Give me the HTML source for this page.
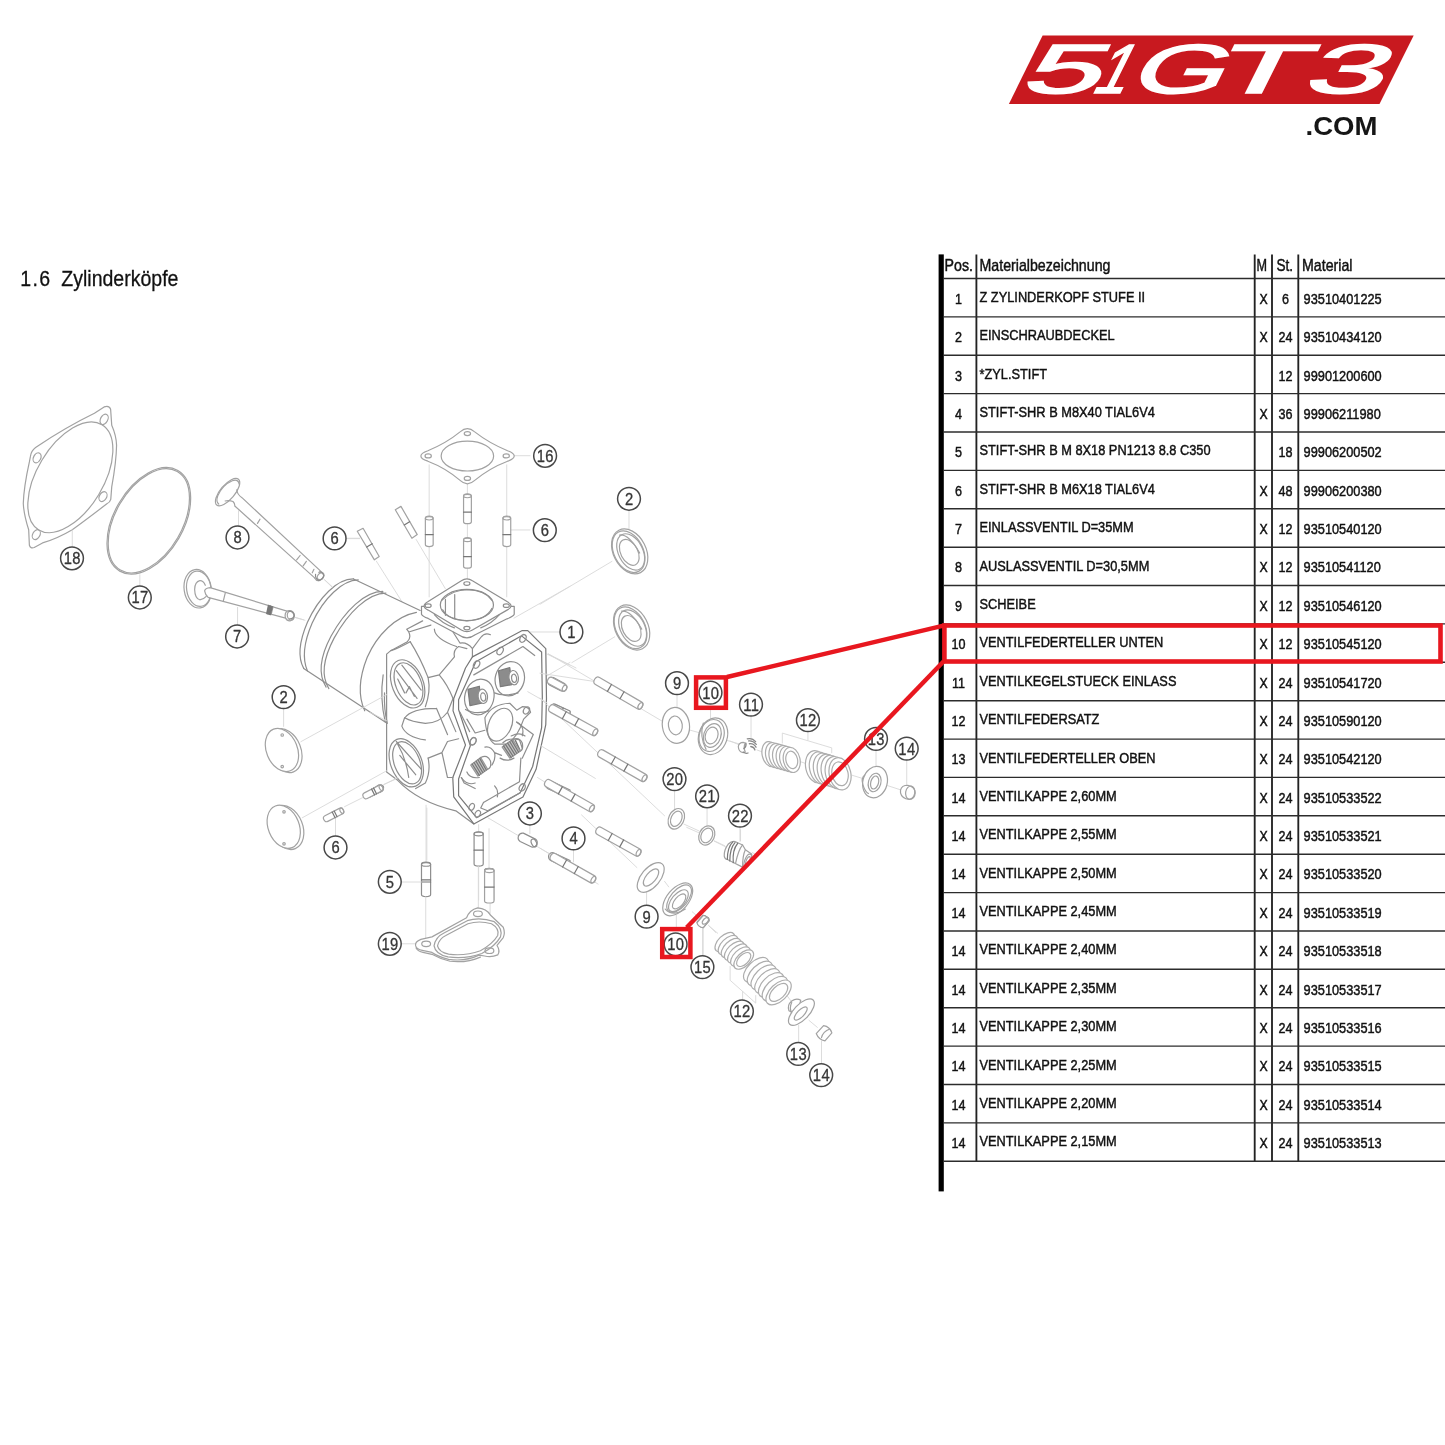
<!DOCTYPE html>
<html lang="de">
<head>
<meta charset="utf-8">
<title>1.6 Zylinderköpfe</title>
<style>
html,body{margin:0;padding:0;background:#fff;}
body{width:1445px;height:1445px;overflow:hidden;}
svg{display:block;font-family:"Liberation Sans",sans-serif;will-change:transform;}
#diagram *{vector-effect:non-scaling-stroke;}
#diagram .l{stroke:#d8d8d8;stroke-width:0.9;}
#diagram .d{stroke:#777;}
#diagram .f{fill:#fff;}
</style>
</head>
<body>
<svg width="1445" height="1445" viewBox="0 0 1445 1445">
<rect width="1445" height="1445" fill="#fff"/>
<g id="logo">
<polygon points="1042.6,35.5 1413.7,35.5 1379.5,103.9 1008.9,103.9" fill="#c8191f"/>
<text transform="translate(0 93.4) skewX(-26.5)" font-size="69.5" fill="#fff" stroke="#fff" stroke-width="1.6" stroke-linejoin="miter"><tspan x="1018.3" textLength="78.5" lengthAdjust="spacingAndGlyphs">5</tspan><tspan x="1089.7" textLength="33.1" lengthAdjust="spacingAndGlyphs">1</tspan><tspan x="1126.4" textLength="93.4" lengthAdjust="spacingAndGlyphs">G</tspan><tspan x="1208.4" textLength="90.4" lengthAdjust="spacingAndGlyphs">T</tspan><tspan x="1300.2" textLength="80.1" lengthAdjust="spacingAndGlyphs">3</tspan></text>
<text transform="translate(1305.5 134.6) scale(1.08 1)" font-size="25.5" font-weight="bold" fill="#161616">.COM</text>
</g>
<g id="title">
<text transform="translate(20.3 285.7) scale(0.86 1)" font-size="22.7" fill="#111" stroke="#111" stroke-width="0.3"><tspan letter-spacing="1.6">1.6</tspan> <tspan x="47.7">Zylinderköpfe</tspan></text>
</g>
<g id="diagram">
<g fill="none" stroke="#a2a2a2" stroke-width="1.2" stroke-linecap="round" stroke-linejoin="round">
<g transform="translate(10 390) scale(0.13841)">
<path class="p" d="M700 118 Q722 118 727 140 L735 255 Q768 330 770 400 Q768 520 735 700 L728 790 Q722 812 700 822 Q560 930 450 1010 Q340 1075 235 1105 L175 1138 Q148 1148 140 1122 L135 1010 Q100 900 96 820 Q100 700 140 520 L148 478 Q152 440 185 415 Q400 270 610 168 L680 122 Q690 118 700 118 Z"/>
<ellipse class="p" cx="436" cy="631" rx="240" ry="443" transform="rotate(31 436 631)"/>
<ellipse class="p" cx="680" cy="212" rx="26" ry="40" transform="rotate(28 680 212)"/>
<ellipse class="p" cx="196" cy="490" rx="26" ry="38" transform="rotate(28 196 490)"/>
<ellipse class="p" cx="672" cy="770" rx="26" ry="38" transform="rotate(28 672 770)"/>
<ellipse class="p" cx="190" cy="1045" rx="26" ry="38" transform="rotate(28 190 1045)"/>
<ellipse class="p" cx="1003" cy="945" rx="251" ry="420" transform="rotate(30 1003 945)"/>
<ellipse class="p" cx="1003" cy="945" rx="242" ry="411" transform="rotate(30 1003 945)"/>
<path class="l" d="M450 1012 V1130"/>
<path class="l" d="M938 1335 V1420"/>
</g>
<g transform="translate(170 460) scale(0.13841)">
<g>
<ellipse class="f" cx="416" cy="232" rx="52" ry="122" transform="rotate(40 416 232)"/>
<path d="M352 318 Q330 300 345 258 Q380 180 450 150 Q495 135 500 175"/>
<path d="M398 296 Q430 290 455 300 Q470 315 468 332 L1045 852"/>
<path d="M482 215 Q486 250 520 272 L1098 812"/>
<path d="M650 428 L632 458 M940 690 L915 722 M985 732 L962 765 M1040 790 L1028 815"/>
<path d="M1045 852 Q1060 880 1085 868 Q1115 850 1110 822 Q1100 805 1075 812"/>
<ellipse cx="1088" cy="840" rx="20" ry="28" transform="rotate(40 1088 840)"/>
</g>
<g>
<ellipse class="f" cx="200" cy="930" rx="98" ry="140" transform="rotate(-8 200 930)"/>
<ellipse cx="208" cy="930" rx="88" ry="128" transform="rotate(-8 208 930)"/>
<path class="f" d="M255 905 Q240 870 215 872 Q180 880 178 935 Q180 1000 215 1010 Q245 1005 262 985"/>
<path class="f" d="M250 945 Q255 925 290 922 L845 1092 Q880 1080 895 1110 Q905 1145 870 1162 Q845 1165 835 1142 L275 992 Q255 975 250 945 Z"/>
<path d="M400 958 L385 1020 M725 1052 L705 1112 M745 1060 L730 1118 M845 1092 Q825 1110 835 1142"/>
<path class="d" stroke-width="1.6" d="M712 1052 L700 1108 M720 1055 L708 1111 M730 1058 L716 1114 M738 1060 L724 1116"/>
<ellipse cx="872" cy="1125" rx="24" ry="33" transform="rotate(-15 872 1125)"/>
</g>
<path class="l" d="M495 365 V475 M488 1065 V1190 M1275 568 H1370 M1112 862 L1175 922 M902 1137 L975 1158"/>
</g>
<g transform="translate(290 420) scale(0.16609)">
<path class="l" d="M838 270 V1065 M1305 270 V1065 M1068 382 V960 M1350 215 H1445 M1330 662 H1445 M520 850 L760 1230 M760 720 L935 1015"/>
<g id="g16">
<path class="f" d="M1068 52 Q1090 52 1110 70 Q1200 140 1310 185 Q1350 200 1350 217 Q1350 235 1310 248 Q1200 290 1110 365 Q1090 384 1068 384 Q1046 384 1026 365 Q940 290 830 248 Q788 235 788 217 Q788 200 830 185 Q940 140 1026 70 Q1046 52 1068 52 Z"/>
<ellipse cx="1068" cy="217" rx="158" ry="90"/>
<ellipse cx="1068" cy="82" rx="19" ry="12"/><ellipse cx="1302" cy="216" rx="19" ry="12"/><ellipse cx="1068" cy="352" rx="19" ry="12"/><ellipse cx="832" cy="216" rx="19" ry="12"/>
</g>
<g id="pinsv">
<path class="f" d="M815 592 Q815 578 838 578 Q862 578 862 592 V750 Q862 762 838 762 Q815 762 815 750 Z"/><ellipse cx="838" cy="592" rx="23" ry="10"/><path class="d" d="M815 690 H862"/>
<path class="f" d="M1045 458 Q1045 444 1068 444 Q1092 444 1092 458 V612 Q1092 624 1068 624 Q1045 624 1045 612 Z"/><ellipse cx="1068" cy="458" rx="23" ry="10"/><path class="d" d="M1045 555 H1092"/>
<path class="f" d="M1045 722 Q1045 708 1068 708 Q1092 708 1092 722 V880 Q1092 892 1068 892 Q1045 892 1045 880 Z"/><ellipse cx="1068" cy="722" rx="23" ry="10"/><path class="d" d="M1045 822 H1092"/>
<path class="f" d="M1282 592 Q1282 578 1305 578 Q1329 578 1329 592 V750 Q1329 762 1305 762 Q1282 762 1282 750 Z"/><ellipse cx="1305" cy="592" rx="23" ry="10"/><path class="d" d="M1282 690 H1329"/>
<path class="f" d="M634 540 L668 520 L766 690 L734 712 Z"/><path class="d" d="M688 632 L720 612"/>
<path class="f" d="M405 670 L440 652 L537 822 L508 842 Z"/><path class="d" d="M462 765 L495 745"/>
<path class="l" d="M343 712 H420"/>
</g>
</g>
<g transform="translate(290 570) scale(0.12457)" stroke="#8e8e8e">
<path class="f" stroke="none" d="M510 72 C380 70 230 220 140 420 C80 560 60 700 110 790 L770 1225 L1045 325 Z"/>
<path d="M510 72 C380 70 230 220 140 420 C80 560 60 700 110 790"/>
<path d="M548 80 C420 82 270 225 178 425 C115 570 95 705 140 810"/>
<path d="M745 172 C600 172 440 330 330 530 C250 680 220 830 290 940"/>
<path d="M770 185 C625 185 465 345 355 545 C275 695 245 845 312 952"/>
<path d="M1015 340 C850 370 700 520 620 700 C560 850 540 1000 600 1130"/>
<path d="M510 72 L1045 325 M110 790 L770 1225"/>
<path class="l" d="M280 80 L340 135 M40 380 L110 400"/>
<path d="M-10 330 Q30 330 35 365 Q25 395 -5 392"/>
<path d="M205 35 Q200 65 230 85 Q265 75 272 45 Q265 20 240 12"/>
</g>
<g transform="translate(370 560) scale(0.13841)" stroke="#8e8e8e">
<path class="l" d="M1130 520 H1375 M1040 420 L1445 190 M1280 680 L1445 760 M1240 860 L1445 740"/>
<path class="f" stroke="none" d="M120 680 L150 655 L270 590 L280 520 L265 500 L380 440 L372 392 L700 560 L1100 510 L1140 510 L1270 640 L1275 1000 L1200 1512 L1105 1712 L750 1907 Q350 1800 120 1532 Z"/>
<g id="flange">
<path class="f" d="M372 335 V392 Q380 408 420 422 L640 540 Q700 585 760 540 L990 425 Q1035 408 1042 392 V335 Z"/>
<path class="f" d="M660 150 Q700 122 740 150 L990 300 Q1048 332 990 362 L740 505 Q700 530 660 505 L420 362 Q362 332 420 300 Z"/>
<ellipse cx="700" cy="325" rx="192" ry="113"/>
<path d="M520 290 Q600 215 700 215 Q830 218 880 290 M545 285 V400 M612 250 V425 M525 360 Q560 430 700 440 Q840 430 880 350"/>
<ellipse cx="700" cy="170" rx="22" ry="13"/><ellipse cx="985" cy="330" rx="22" ry="13"/><ellipse cx="700" cy="492" rx="22" ry="13"/><ellipse cx="420" cy="330" rx="22" ry="13"/>
<path d="M465 395 Q520 460 610 490 M935 395 Q880 460 800 490"/>
</g>
<g id="leftside">
<path d="M120 680 V1532 L200 1592 Q350 1750 620 1812 L750 1907 M120 680 L150 655 L270 590 M270 590 Q300 560 280 520 L265 500 L380 440 M280 520 L440 470"/>
<path d="M290 590 Q360 700 420 850 L500 830 L610 700 Q600 650 640 625 L700 640 M500 830 Q560 900 600 1000 M465 500 Q470 570 625 625 M600 520 L650 600 Q700 590 740 640 L800 560 Q830 520 870 540 M740 640 L740 700"/>
<path d="M150 655 Q200 640 290 590 M420 850 Q440 950 400 1060 M600 1000 L560 1100 Q500 1180 400 1180 Q300 1170 250 1140 M250 1140 L230 1200 Q260 1280 400 1300 M560 1100 L620 1240"/>
<ellipse cx="272" cy="895" rx="112" ry="182" transform="rotate(-22 272 895)"/>
<ellipse cx="278" cy="895" rx="92" ry="160" transform="rotate(-22 278 895)"/>
<path d="M190 800 L340 1000 M230 760 L370 940 M260 960 L285 915 L320 985 M200 860 L250 960"/>
<path d="M95 830 Q70 1000 110 1170 M105 960 Q100 1080 125 1180"/>
<ellipse cx="262" cy="1465" rx="112" ry="182" transform="rotate(-22 262 1465)"/>
<ellipse cx="268" cy="1465" rx="92" ry="160" transform="rotate(-22 268 1465)"/>
</g>
<g id="front">
<path class="d" d="M740 700 L1100 510 L1140 510 L1270 640 L1275 1000 L1270 1190 L1200 1512 L1105 1712 L750 1907 L605 1712 L598 1572 L690 1337 L600 1090 L605 1000 L690 780 L740 700"/>
<path class="d" d="M765 735 L1095 548 L1240 665 L1245 990 L1240 1212 L1175 1492 L1085 1682 L770 1862 L640 1702 L640 1582 L725 1342 L640 1080 L640 1010 L765 735"/>
<path d="M750 830 L1105 625 L1190 690"/>
<ellipse cx="770" cy="755" rx="20" ry="30" transform="rotate(30 770 755)"/><ellipse cx="940" cy="657" rx="20" ry="30" transform="rotate(30 940 657)"/><ellipse cx="1105" cy="567" rx="20" ry="30" transform="rotate(30 1105 567)"/>
<ellipse cx="790" cy="990" rx="105" ry="130" transform="rotate(15 790 990)"/>
<ellipse cx="1010" cy="858" rx="105" ry="125" transform="rotate(15 1010 858)"/>
<path d="M690 1080 Q760 1120 860 1090 M900 960 Q960 990 1070 960"/>
<path fill="#8c8c8c" stroke="#7a7a7a" d="M708 935 L790 912 L805 1035 L722 1052 Z"/>
<ellipse class="f" cx="815" cy="985" rx="34" ry="52" transform="rotate(-8 815 985)"/>
<ellipse cx="818" cy="990" rx="18" ry="30" transform="rotate(-8 818 990)"/>
<path fill="#8c8c8c" stroke="#7a7a7a" d="M928 800 L1010 778 L1025 900 L942 915 Z"/>
<ellipse class="f" cx="1038" cy="850" rx="34" ry="52" transform="rotate(-8 1038 850)"/>
<ellipse cx="1041" cy="855" rx="18" ry="30" transform="rotate(-8 1041 855)"/>
<path d="M830 1140 Q880 1040 1010 1035 L1060 1085 L1100 1060 Q1150 1060 1160 1100 L1110 1150 Q1060 1300 980 1330 L900 1330 Q840 1290 830 1140 Z"/>
<ellipse cx="940" cy="1190" rx="82" ry="125" transform="rotate(25 940 1190)"/>
<ellipse cx="1130" cy="1087" rx="20" ry="28" transform="rotate(30 1130 1087)"/>
<ellipse cx="745" cy="1310" rx="20" ry="28" transform="rotate(30 745 1310)"/>
<path d="M700 1150 L760 1250 L830 1230 M1060 1170 Q1120 1200 1100 1270 M650 1100 L720 1240"/>
<path class="d" stroke-width="1.5" d="M975 1340 L1000 1410 M990 1330 L1018 1402 M1005 1322 L1035 1395 M1020 1315 L1052 1388 M1035 1308 L1068 1380 M1050 1302 L1082 1372"/>
<path d="M960 1320 Q1000 1280 1080 1300 L1100 1360"/>
</g>
<g id="pins-r">
<path class="f" d="M1288 868 Q1300 840 1325 850 L1405 892 Q1425 905 1412 932 Q1400 955 1378 945 L1300 905 Q1280 892 1288 868 Z"/>
<ellipse cx="1396" cy="918" rx="17" ry="28" transform="rotate(-25 1396 918)"/>
<path class="f" d="M1305 1060 Q1315 1035 1340 1045 L1445 1095 V1160 L1318 1100 Q1298 1085 1305 1060 Z"/>
<path class="d" d="M1395 1075 L1375 1130"/>
</g>
</g>
<g transform="translate(370 700) scale(0.13841)" stroke="#8e8e8e">
<path class="l" d="M405 760 V1175 M785 900 V950 M860 930 V1215 M785 1200 V1445 M850 850 L1080 985 M1210 1060 L1300 1112 M1280 20 L1140 -60 M1210 560 L1275 600 M190 570 L100 610 M0 90 L120 150"/>
<g id="springs">
<path d="M420 420 L520 380 L560 300 L640 280 M520 380 L560 560 L600 560 M480 60 L560 250 M250 130 Q300 60 480 60"/>
<path fill="#c4c4c4" stroke="#999" d="M728 470 L800 415 L850 500 L780 550 Z"/>
<path class="d" d="M738 462 L790 545 M752 452 L802 535 M766 442 L815 525 M780 432 L828 515 M793 422 L840 506"/>
<path d="M800 415 Q850 390 870 440 Q880 490 850 500 M700 520 Q720 570 790 560 M660 560 Q700 620 760 600"/>
<path fill="#c4c4c4" stroke="#999" d="M955 340 L1030 285 L1085 370 L1010 420 Z"/>
<path class="d" d="M965 332 L1020 415 M980 322 L1033 405 M995 312 L1047 395 M1010 302 L1060 385 M1023 292 L1073 376"/>
<path d="M1030 285 Q1080 265 1100 310 Q1110 360 1085 370 M940 420 Q990 450 1040 420 M1020 260 Q1080 230 1120 260"/>
<path d="M830 340 Q870 330 900 380 Q910 430 880 470 M900 380 L950 400 M660 560 L680 600 L760 640 M820 740 L1080 590 L1090 420 M820 740 L800 780 L850 800 L1085 670 M900 620 Q930 650 920 700 M1060 160 L1180 250 L1100 420"/>
<ellipse cx="745" cy="297" rx="20" ry="28" transform="rotate(30 745 297)"/>
<ellipse cx="1100" cy="632" rx="20" ry="28" transform="rotate(30 1100 632)"/>
<ellipse cx="735" cy="772" rx="18" ry="26" transform="rotate(30 735 772)"/>
<ellipse cx="778" cy="822" rx="18" ry="26" transform="rotate(30 778 822)"/>
</g>
<g id="port2">
<path d="M190 300 L370 500 M215 400 L330 540 M200 320 Q260 420 280 560"/>
<path d="M420 420 Q440 520 400 600 L330 640"/>
</g>
<g id="pins-low">
<path class="f" d="M372 1188 Q372 1172 405 1172 Q438 1172 438 1188 V1405 Q438 1420 405 1420 Q372 1420 372 1405 Z"/><ellipse cx="405" cy="1188" rx="33" ry="13"/><path class="d" d="M372 1300 H438 M372 1315 H438"/>
<path class="f" d="M752 968 Q752 952 785 952 Q818 952 818 968 V1185 Q818 1200 785 1200 Q752 1200 752 1185 Z"/><ellipse cx="785" cy="968" rx="33" ry="13"/><path class="d" d="M752 1085 H818"/>
<path class="f" d="M828 1232 Q828 1216 861 1216 Q894 1216 894 1232 V1445 H828 Z"/><ellipse cx="861" cy="1232" rx="33" ry="13"/><path class="d" d="M828 1350 H894"/>
<path class="f" d="M1072 985 Q1080 958 1108 962 L1195 1005 Q1215 1020 1205 1045 Q1192 1068 1168 1062 L1085 1022 Q1065 1008 1072 985 Z"/><ellipse cx="1185" cy="1033" rx="18" ry="30" transform="rotate(-25 1185 1033)"/>
<path class="f" d="M1302 45 Q1312 25 1335 30 L1445 80 V140 L1315 85 Q1295 70 1302 45 Z"/><path class="d" d="M1395 60 L1375 115"/>
<path class="f" d="M1272 600 Q1282 578 1305 584 L1445 650 V712 L1285 640 Q1265 625 1272 600 Z"/><path class="d" d="M1375 618 L1355 672"/>
<path class="f" d="M1292 1120 Q1302 1098 1325 1104 L1445 1160 V1225 L1305 1160 Q1285 1145 1292 1120 Z"/><path class="d" d="M1395 1138 L1375 1192"/>
<path class="f" d="M-5 660 L60 615 Q90 605 98 632 Q98 655 75 665 L0 700 Z"/><ellipse cx="78" cy="640" rx="17" ry="24" transform="rotate(25 78 640)"/><path class="d" d="M25 640 L40 675"/>
<path class="l" d="M232 1315 H372 M1155 905 V965"/>
</g>
</g>
<g transform="translate(540 470) scale(0.13841)">
<path class="l" d="M643 295 V425 M520 660 L0 970 M540 1205 L230 1392 M60 1330 L260 1430"/>
<g id="seal1">
<ellipse class="f" cx="648" cy="588" rx="118" ry="172" transform="rotate(-27 648 588)"/>
<ellipse cx="640" cy="590" rx="105" ry="160" transform="rotate(-27 640 590)"/>
<ellipse cx="655" cy="592" rx="88" ry="140" transform="rotate(-27 655 592)"/>
<ellipse cx="645" cy="595" rx="62" ry="100" transform="rotate(-27 645 595)"/>
<path d="M575 470 Q640 460 720 600"/>
</g>
<g id="seal2">
<ellipse class="f" cx="662" cy="1138" rx="118" ry="172" transform="rotate(-27 662 1138)"/>
<ellipse cx="654" cy="1140" rx="105" ry="160" transform="rotate(-27 654 1140)"/>
<ellipse cx="669" cy="1142" rx="88" ry="140" transform="rotate(-27 669 1142)"/>
<ellipse cx="659" cy="1145" rx="62" ry="100" transform="rotate(-27 659 1145)"/>
<path d="M590 1020 Q655 1010 735 1150"/>
</g>
</g>
<g transform="translate(540 640) scale(0.13841)">
<path class="l" d="M990 400 V490 M1232 505 V565 M972 1095 V1220 M1207 1220 V1345 M60 100 L880 585 M1080 650 L1445 752 M0 420 L900 1270 M1040 1330 L1150 1380 M0 760 L400 1000 M0 240 L395 300"/>
<g transform="translate(405 290) rotate(30.2)"><path class="f" d="M12 -29 H362 Q386 -29 386 0 Q386 29 362 29 H12 Q-12 29 -12 0 Q-12 -29 12 -29 Z"/><ellipse cx="370" cy="0" rx="14" ry="26"/><path class="d" d="M112 -29 V29"/><path class="d" d="M217 -29 V29"/></g>
<g transform="translate(78 490) rotate(28.8)"><path class="f" d="M12 -29 H358 Q382 -29 382 0 Q382 29 358 29 H12 Q-12 29 -12 0 Q-12 -29 12 -29 Z"/><ellipse cx="366" cy="0" rx="14" ry="26"/><path class="d" d="M111 -29 V29"/><path class="d" d="M214 -29 V29"/></g>
<g transform="translate(432 815) rotate(29.6)"><path class="f" d="M12 -29 H363 Q387 -29 387 0 Q387 29 363 29 H12 Q-12 29 -12 0 Q-12 -29 12 -29 Z"/><ellipse cx="371" cy="0" rx="14" ry="26"/><path class="d" d="M112 -29 V29"/><path class="d" d="M217 -29 V29"/></g>
<g transform="translate(48 1030) rotate(29.7)"><path class="f" d="M12 -29 H368 Q392 -29 392 0 Q392 29 368 29 H12 Q-12 29 -12 0 Q-12 -29 12 -29 Z"/><ellipse cx="376" cy="0" rx="14" ry="26"/><path class="d" d="M114 -29 V29"/><path class="d" d="M220 -29 V29"/></g>
<g transform="translate(68 290) rotate(28.2)"><path class="f" d="M12 -26 H115 Q139 -26 139 0 Q139 26 115 26 H12 Q-12 26 -12 0 Q-12 -26 12 -26 Z"/><ellipse cx="124" cy="0" rx="14" ry="23"/></g>
<g id="w9"><ellipse class="f" cx="982" cy="617" rx="98" ry="130" transform="rotate(-8 982 617)"/><ellipse cx="978" cy="617" rx="50" ry="68" transform="rotate(-8 978 617)"/></g>
<g id="p10"><ellipse class="f" cx="1250" cy="695" rx="103" ry="135" transform="rotate(18 1250 695)"/><ellipse cx="1240" cy="690" rx="88" ry="118" transform="rotate(18 1240 690)"/><ellipse cx="1245" cy="690" rx="62" ry="88" transform="rotate(18 1245 690)"/><ellipse cx="1240" cy="690" rx="45" ry="62" transform="rotate(18 1240 690)"/><path d="M1180 600 Q1150 700 1200 790"/></g>
<g id="w20"><ellipse class="f" cx="985" cy="1292" rx="55" ry="78" transform="rotate(25 985 1292)"/><ellipse cx="985" cy="1292" rx="38" ry="58" transform="rotate(25 985 1292)"/></g>
<g id="w21"><ellipse class="f" cx="1205" cy="1412" rx="55" ry="72" transform="rotate(25 1205 1412)"/><ellipse cx="1205" cy="1412" rx="40" ry="55" transform="rotate(25 1205 1412)"/></g>
</g>
<g transform="translate(730 660) scale(0.13841)">
<path class="l" d="M152 410 V560 M1055 655 V770 M1277 725 V905 M72 1210 V1310 M0 585 L60 610 M195 650 L235 665 M510 735 L548 748 M880 832 L955 855 M1140 908 L1232 938"/>
<path class="l" stroke="#aaa" d="M563 520 V578 M378 600 V528 L735 635 V670"/>
<g id="k11">
<path class="f" d="M60 625 Q65 595 95 595 L110 600 Q95 630 110 665 L95 670 Q62 665 60 625 Z"/>
<path stroke="#888" stroke-width="1.3" d="M125 570 Q160 560 185 590 M135 585 Q165 580 190 610 M140 605 Q170 600 188 630 M100 640 Q120 625 115 600 M95 665 Q115 680 130 672 M150 625 Q175 630 180 650"/>
</g>
<g id="s12a" stroke="#adadad"><ellipse class="f" cx="292" cy="680" rx="60" ry="92" transform="rotate(-12 292 680)"/><ellipse class="f" cx="318" cy="687" rx="60" ry="92" transform="rotate(-12 318 687)"/><ellipse class="f" cx="343" cy="694" rx="60" ry="92" transform="rotate(-12 343 694)"/><ellipse class="f" cx="369" cy="701" rx="60" ry="92" transform="rotate(-12 369 701)"/><ellipse class="f" cx="395" cy="708" rx="60" ry="92" transform="rotate(-12 395 708)"/><ellipse class="f" cx="420" cy="715" rx="60" ry="92" transform="rotate(-12 420 715)"/><ellipse class="f" cx="446" cy="722" rx="60" ry="92" transform="rotate(-12 446 722)"/><ellipse cx="446" cy="722" rx="42" ry="64" transform="rotate(-12 446 722)"/></g>
<g id="s12b" stroke="#adadad"><ellipse class="f" cx="625" cy="772" rx="78" ry="118" transform="rotate(-12 625 772)"/><ellipse class="f" cx="653" cy="780" rx="78" ry="118" transform="rotate(-12 653 780)"/><ellipse class="f" cx="682" cy="789" rx="78" ry="118" transform="rotate(-12 682 789)"/><ellipse class="f" cx="710" cy="797" rx="78" ry="118" transform="rotate(-12 710 797)"/><ellipse class="f" cx="738" cy="805" rx="78" ry="118" transform="rotate(-12 738 805)"/><ellipse class="f" cx="767" cy="814" rx="78" ry="118" transform="rotate(-12 767 814)"/><ellipse class="f" cx="795" cy="822" rx="78" ry="118" transform="rotate(-12 795 822)"/><ellipse cx="795" cy="822" rx="58" ry="87" transform="rotate(-12 795 822)"/></g>
<g id="r13">
<ellipse class="f" cx="1048" cy="882" rx="88" ry="115" transform="rotate(15 1048 882)"/>
<path d="M975 830 Q945 850 960 900 Q975 950 1000 965"/>
<ellipse cx="1045" cy="885" rx="45" ry="68" transform="rotate(15 1045 885)"/>
<ellipse cx="1045" cy="885" rx="28" ry="48" transform="rotate(15 1045 885)"/>
</g>
<g id="c14">
<path class="f" d="M1232 940 Q1240 905 1285 905 Q1335 915 1338 960 Q1335 1005 1295 1008 Q1240 1000 1232 960 Z"/>
<ellipse cx="1302" cy="958" rx="33" ry="48" transform="rotate(10 1302 958)"/>
</g>
</g>
<g transform="translate(540 790) scale(0.13841)">
<path class="l" d="M242 435 V520 M770 735 V830 M985 905 V990 M1175 1000 V1195 M300 180 L700 560 M900 660 L930 700 M1100 880 L1140 915 M1215 975 L1270 1030 M420 680 L0 420 M1060 270 L1150 310 M1260 370 L1340 410"/>
<g transform="translate(88 480) rotate(29.5)"><path class="f" d="M12 -29 H333 Q357 -29 357 0 Q357 29 333 29 H12 Q-12 29 -12 0 Q-12 -29 12 -29 Z"/><ellipse cx="341" cy="0" rx="14" ry="26"/><path class="d" d="M103 -29 V29"/><path class="d" d="M200 -29 V29"/></g>
<g transform="translate(418 290) rotate(29.1)"><path class="f" d="M12 -29 H328 Q352 -29 352 0 Q352 29 328 29 H12 Q-12 29 -12 0 Q-12 -29 12 -29 Z"/><ellipse cx="336" cy="0" rx="14" ry="26"/><path class="d" d="M102 -29 V29"/><path class="d" d="M197 -29 V29"/></g>
<g id="w9b"><ellipse class="f" cx="800" cy="632" rx="68" ry="128" transform="rotate(40 800 632)"/><ellipse cx="802" cy="632" rx="36" ry="75" transform="rotate(40 802 632)"/></g>
<g id="p10b"><ellipse class="f" cx="995" cy="790" rx="78" ry="140" transform="rotate(40 995 790)"/><ellipse cx="1005" cy="785" rx="62" ry="118" transform="rotate(40 1005 785)"/><ellipse cx="1000" cy="800" rx="48" ry="95" transform="rotate(40 1000 800)"/><ellipse cx="1005" cy="805" rx="32" ry="65" transform="rotate(40 1005 805)"/><path d="M905 860 Q960 920 1050 860"/></g>
<g id="p15"><path class="f d" d="M1135 955 L1180 905 Q1215 910 1220 945 L1180 995 Q1145 990 1135 955 Z"/><ellipse class="d" cx="1198" cy="945" rx="16" ry="26" transform="rotate(40 1198 945)"/></g>
</g>
<g transform="translate(690 900) scale(0.13841)">
<path class="l" d="M95 200 V400 M785 905 V1025 M950 1020 V1180 M140 190 L200 240 M460 440 L480 460 M700 690 L730 730 M860 870 L920 920"/>
<path class="l" stroke="#aaa" d="M380 660 V720 M290 480 V580 L475 745 V690"/>
<g id="s12c" stroke="#adadad"><ellipse class="f" cx="252" cy="305" rx="48" ry="88" transform="rotate(46 252 305)"/><ellipse class="f" cx="275" cy="326" rx="48" ry="88" transform="rotate(46 275 326)"/><ellipse class="f" cx="297" cy="347" rx="48" ry="88" transform="rotate(46 297 347)"/><ellipse class="f" cx="320" cy="368" rx="48" ry="88" transform="rotate(46 320 368)"/><ellipse class="f" cx="343" cy="388" rx="48" ry="88" transform="rotate(46 343 388)"/><ellipse class="f" cx="365" cy="409" rx="48" ry="88" transform="rotate(46 365 409)"/><ellipse class="f" cx="388" cy="430" rx="48" ry="88" transform="rotate(46 388 430)"/><ellipse cx="388" cy="430" rx="35" ry="63" transform="rotate(46 388 430)"/></g>
<g id="s12d" stroke="#adadad"><ellipse class="f" cx="478" cy="505" rx="62" ry="112" transform="rotate(46 478 505)"/><ellipse class="f" cx="505" cy="532" rx="62" ry="112" transform="rotate(46 505 532)"/><ellipse class="f" cx="532" cy="559" rx="62" ry="112" transform="rotate(46 532 559)"/><ellipse class="f" cx="559" cy="586" rx="62" ry="112" transform="rotate(46 559 586)"/><ellipse class="f" cx="586" cy="614" rx="62" ry="112" transform="rotate(46 586 614)"/><ellipse class="f" cx="613" cy="641" rx="62" ry="112" transform="rotate(46 613 641)"/><ellipse class="f" cx="640" cy="668" rx="62" ry="112" transform="rotate(46 640 668)"/><ellipse cx="640" cy="668" rx="45" ry="81" transform="rotate(46 640 668)"/></g>
<g id="r13b"><path class="f" d="M715 800 Q700 760 735 730 Q770 705 800 725 L770 830 Z"/><ellipse class="f" cx="805" cy="810" rx="55" ry="122" transform="rotate(44 805 810)"/><ellipse cx="800" cy="820" rx="25" ry="62" transform="rotate(44 800 820)"/><path d="M735 740 Q715 780 735 815"/></g>
<g id="c14b"><path class="f" d="M912 965 L965 908 Q1010 915 1025 960 L975 1018 Q930 1010 912 965 Z"/><path d="M950 995 Q960 950 1010 932"/></g>
<g id="p15b"><path class="f" d="M50 165 L95 112 Q130 118 138 150 L95 200 Q60 195 50 165 Z"/><ellipse cx="112" cy="150" rx="16" ry="30" transform="rotate(44 112 150)"/></g>
</g>
<g transform="translate(240 660) scale(0.13841)">
<path class="l" d="M315 355 V480 M690 1140 V1270 M440 590 L1060 250 M450 1140 L1060 800 M755 1060 L885 995 M1040 900 L1140 850 M1350 1070 V1445"/>
<g id="cov1"><ellipse class="f" cx="325" cy="655" rx="115" ry="165" transform="rotate(-22 325 655)"/><ellipse class="f" cx="303" cy="650" rx="112" ry="162" transform="rotate(-22 303 650)"/><circle cx="305" cy="542" r="9"/><circle cx="305" cy="770" r="9"/></g>
<g id="cov2"><ellipse class="f" cx="338" cy="1210" rx="115" ry="165" transform="rotate(-22 338 1210)"/><ellipse class="f" cx="316" cy="1205" rx="112" ry="162" transform="rotate(-22 316 1205)"/><circle cx="318" cy="1097" r="9"/><circle cx="318" cy="1328" r="9"/></g>
<g transform="translate(900 985) rotate(-27.3)"><path class="f" d="M10 -23 H127 Q148 -23 148 0 Q148 23 127 23 H10 Q-10 23 -10 0 Q-10 -23 10 -23 Z"/><ellipse cx="134" cy="0" rx="12" ry="21"/><path class="d" d="M69 -23 V23"/><path class="d" d="M85 -23 V23"/></g>
<g transform="translate(615 1150) rotate(-26.8)"><path class="f" d="M10 -23 H127 Q148 -23 148 0 Q148 23 127 23 H10 Q-10 23 -10 0 Q-10 -23 10 -23 Z"/><ellipse cx="135" cy="0" rx="12" ry="21"/><path class="d" d="M69 -23 V23"/><path class="d" d="M85 -23 V23"/></g>
</g>
<g transform="translate(360 840) scale(0.13841)">
<path class="l" d="M475 410 V720 M855 190 V490 M940 455 V780"/>
<path class="l" stroke="#aaa" d="M300 750 H400"/>
<path class="f" d="M900 222 Q900 206 935 206 Q968 206 968 222 V440 Q968 455 935 455 Q900 455 900 440 Z"/><ellipse cx="935" cy="222" rx="33" ry="13"/><path class="d" d="M900 340 H968"/>
<g id="g19">
<path class="f" d="M402 765 Q395 735 440 718 L520 700 L770 562 Q790 505 850 490 Q915 495 940 540 L1035 630 Q1050 670 1035 705 L990 762 Q1015 800 995 830 Q950 850 900 838 L860 832 Q760 880 640 862 Q560 840 520 812 L450 798 Q410 790 402 765 Z"/>
<path d="M405 780 Q420 805 455 812 L520 826 Q580 860 650 876 Q770 890 870 846"/>
<path d="M560 765 Q570 715 620 690 L780 605 Q860 580 950 605 Q1010 640 995 690 Q960 750 870 800 Q760 840 640 825 Q570 810 560 765 Z"/>
<path d="M535 765 Q545 700 610 670 L775 583 Q865 555 970 590 Q1035 640 1015 700 Q975 770 880 820 Q765 862 635 845 Q545 825 535 765 Z"/>
<ellipse cx="478" cy="750" rx="32" ry="20"/><ellipse cx="852" cy="533" rx="32" ry="20"/><ellipse cx="935" cy="800" rx="32" ry="20"/>
</g>
</g>
<g transform="translate(690 800) scale(0.06920)">
<path class="l" d="M730 430 V590 M350 590 L500 660 M900 760 L960 790"/>
<g id="p22">
<path class="f" d="M650 600 Q600 590 550 640 Q490 720 495 810 Q500 850 540 860 L640 910 L760 970 Q820 975 870 900 Q905 830 890 780 L800 720 L760 650 Z"/>
<path class="d" d="M620 605 Q540 680 540 860 M650 615 Q575 700 575 880 M690 625 Q610 720 625 905"/>
<path d="M760 650 Q700 720 660 910 M800 720 Q760 800 760 970"/>
<ellipse cx="835" cy="875" rx="42" ry="98" transform="rotate(22 835 875)"/>
<ellipse cx="838" cy="878" rx="25" ry="65" transform="rotate(22 838 878)"/>
</g>
</g>
<g id="callouts">
<circle cx="72.0" cy="558.3" r="11.4" fill="#fff" stroke="#484848" stroke-width="1.5"/>
<text transform="translate(72.2 564.2) scale(0.9 1)" text-anchor="middle" font-size="16.4" fill="#363636" stroke="#363636" stroke-width="0.3" letter-spacing="0.4">18</text>
<circle cx="139.8" cy="597.5" r="11.4" fill="#fff" stroke="#484848" stroke-width="1.5"/>
<text transform="translate(140.0 603.4) scale(0.9 1)" text-anchor="middle" font-size="16.4" fill="#363636" stroke="#363636" stroke-width="0.3" letter-spacing="0.4">17</text>
<circle cx="237.5" cy="537.5" r="11.4" fill="#fff" stroke="#484848" stroke-width="1.5"/>
<text transform="translate(237.5 543.4) scale(0.9 1)" text-anchor="middle" font-size="16.4" fill="#363636" stroke="#363636" stroke-width="0.3" letter-spacing="0">8</text>
<circle cx="237.1" cy="636.5" r="11.4" fill="#fff" stroke="#484848" stroke-width="1.5"/>
<text transform="translate(237.1 642.4) scale(0.9 1)" text-anchor="middle" font-size="16.4" fill="#363636" stroke="#363636" stroke-width="0.3" letter-spacing="0">7</text>
<circle cx="334.6" cy="538.4" r="11.4" fill="#fff" stroke="#484848" stroke-width="1.5"/>
<text transform="translate(334.6 544.3) scale(0.9 1)" text-anchor="middle" font-size="16.4" fill="#363636" stroke="#363636" stroke-width="0.3" letter-spacing="0">6</text>
<circle cx="544.8" cy="530.2" r="11.4" fill="#fff" stroke="#484848" stroke-width="1.5"/>
<text transform="translate(544.8 536.1) scale(0.9 1)" text-anchor="middle" font-size="16.4" fill="#363636" stroke="#363636" stroke-width="0.3" letter-spacing="0">6</text>
<circle cx="545.1" cy="455.8" r="11.4" fill="#fff" stroke="#484848" stroke-width="1.5"/>
<text transform="translate(545.3 461.7) scale(0.9 1)" text-anchor="middle" font-size="16.4" fill="#363636" stroke="#363636" stroke-width="0.3" letter-spacing="0.4">16</text>
<circle cx="629.0" cy="498.8" r="11.4" fill="#fff" stroke="#484848" stroke-width="1.5"/>
<text transform="translate(629.0 504.7) scale(0.9 1)" text-anchor="middle" font-size="16.4" fill="#363636" stroke="#363636" stroke-width="0.3" letter-spacing="0">2</text>
<circle cx="571.4" cy="631.9" r="11.4" fill="#fff" stroke="#484848" stroke-width="1.5"/>
<text transform="translate(571.4 637.8) scale(0.9 1)" text-anchor="middle" font-size="16.4" fill="#363636" stroke="#363636" stroke-width="0.3" letter-spacing="0">1</text>
<circle cx="283.6" cy="697.1" r="11.4" fill="#fff" stroke="#484848" stroke-width="1.5"/>
<text transform="translate(283.6 703.0) scale(0.9 1)" text-anchor="middle" font-size="16.4" fill="#363636" stroke="#363636" stroke-width="0.3" letter-spacing="0">2</text>
<circle cx="335.5" cy="847.5" r="11.4" fill="#fff" stroke="#484848" stroke-width="1.5"/>
<text transform="translate(335.5 853.4) scale(0.9 1)" text-anchor="middle" font-size="16.4" fill="#363636" stroke="#363636" stroke-width="0.3" letter-spacing="0">6</text>
<circle cx="389.8" cy="881.8" r="11.4" fill="#fff" stroke="#484848" stroke-width="1.5"/>
<text transform="translate(389.8 887.7) scale(0.9 1)" text-anchor="middle" font-size="16.4" fill="#363636" stroke="#363636" stroke-width="0.3" letter-spacing="0">5</text>
<circle cx="389.8" cy="943.8" r="11.4" fill="#fff" stroke="#484848" stroke-width="1.5"/>
<text transform="translate(390.0 949.7) scale(0.9 1)" text-anchor="middle" font-size="16.4" fill="#363636" stroke="#363636" stroke-width="0.3" letter-spacing="0.4">19</text>
<circle cx="529.9" cy="813.5" r="11.4" fill="#fff" stroke="#484848" stroke-width="1.5"/>
<text transform="translate(529.9 819.4) scale(0.9 1)" text-anchor="middle" font-size="16.4" fill="#363636" stroke="#363636" stroke-width="0.3" letter-spacing="0">3</text>
<circle cx="573.5" cy="838.4" r="11.4" fill="#fff" stroke="#484848" stroke-width="1.5"/>
<text transform="translate(573.5 844.3) scale(0.9 1)" text-anchor="middle" font-size="16.4" fill="#363636" stroke="#363636" stroke-width="0.3" letter-spacing="0">4</text>
<circle cx="677.0" cy="683.2" r="11.4" fill="#fff" stroke="#484848" stroke-width="1.5"/>
<text transform="translate(677.0 689.1) scale(0.9 1)" text-anchor="middle" font-size="16.4" fill="#363636" stroke="#363636" stroke-width="0.3" letter-spacing="0">9</text>
<circle cx="710.5" cy="692.6" r="11.4" fill="#fff" stroke="#484848" stroke-width="1.5"/>
<text transform="translate(710.7 698.5) scale(0.9 1)" text-anchor="middle" font-size="16.4" fill="#363636" stroke="#363636" stroke-width="0.3" letter-spacing="0.4">10</text>
<circle cx="751.0" cy="704.6" r="11.4" fill="#fff" stroke="#484848" stroke-width="1.5"/>
<text transform="translate(751.2 710.5) scale(0.9 1)" text-anchor="middle" font-size="16.4" fill="#363636" stroke="#363636" stroke-width="0.3" letter-spacing="0.4">11</text>
<circle cx="807.9" cy="720.2" r="11.4" fill="#fff" stroke="#484848" stroke-width="1.5"/>
<text transform="translate(808.1 726.1) scale(0.9 1)" text-anchor="middle" font-size="16.4" fill="#363636" stroke="#363636" stroke-width="0.3" letter-spacing="0.4">12</text>
<circle cx="876.0" cy="738.9" r="11.4" fill="#fff" stroke="#484848" stroke-width="1.5"/>
<text transform="translate(876.2 744.8) scale(0.9 1)" text-anchor="middle" font-size="16.4" fill="#363636" stroke="#363636" stroke-width="0.3" letter-spacing="0.4">13</text>
<circle cx="906.7" cy="748.6" r="11.4" fill="#fff" stroke="#484848" stroke-width="1.5"/>
<text transform="translate(906.9 754.5) scale(0.9 1)" text-anchor="middle" font-size="16.4" fill="#363636" stroke="#363636" stroke-width="0.3" letter-spacing="0.4">14</text>
<circle cx="674.5" cy="779.1" r="11.4" fill="#fff" stroke="#484848" stroke-width="1.5"/>
<text transform="translate(674.7 785.0) scale(0.9 1)" text-anchor="middle" font-size="16.4" fill="#363636" stroke="#363636" stroke-width="0.3" letter-spacing="0.4">20</text>
<circle cx="707.1" cy="796.3" r="11.4" fill="#fff" stroke="#484848" stroke-width="1.5"/>
<text transform="translate(707.3 802.2) scale(0.9 1)" text-anchor="middle" font-size="16.4" fill="#363636" stroke="#363636" stroke-width="0.3" letter-spacing="0.4">21</text>
<circle cx="740.0" cy="815.7" r="11.4" fill="#fff" stroke="#484848" stroke-width="1.5"/>
<text transform="translate(740.2 821.6) scale(0.9 1)" text-anchor="middle" font-size="16.4" fill="#363636" stroke="#363636" stroke-width="0.3" letter-spacing="0.4">22</text>
<circle cx="646.6" cy="916.6" r="11.4" fill="#fff" stroke="#484848" stroke-width="1.5"/>
<text transform="translate(646.6 922.5) scale(0.9 1)" text-anchor="middle" font-size="16.4" fill="#363636" stroke="#363636" stroke-width="0.3" letter-spacing="0">9</text>
<circle cx="675.6" cy="944.3" r="11.4" fill="#fff" stroke="#484848" stroke-width="1.5"/>
<text transform="translate(675.8 950.2) scale(0.9 1)" text-anchor="middle" font-size="16.4" fill="#363636" stroke="#363636" stroke-width="0.3" letter-spacing="0.4">10</text>
<circle cx="702.4" cy="967.1" r="11.4" fill="#fff" stroke="#484848" stroke-width="1.5"/>
<text transform="translate(702.6 973.0) scale(0.9 1)" text-anchor="middle" font-size="16.4" fill="#363636" stroke="#363636" stroke-width="0.3" letter-spacing="0.4">15</text>
<circle cx="741.9" cy="1011.4" r="11.4" fill="#fff" stroke="#484848" stroke-width="1.5"/>
<text transform="translate(742.1 1017.3) scale(0.9 1)" text-anchor="middle" font-size="16.4" fill="#363636" stroke="#363636" stroke-width="0.3" letter-spacing="0.4">12</text>
<circle cx="798.2" cy="1053.9" r="11.4" fill="#fff" stroke="#484848" stroke-width="1.5"/>
<text transform="translate(798.4 1059.8) scale(0.9 1)" text-anchor="middle" font-size="16.4" fill="#363636" stroke="#363636" stroke-width="0.3" letter-spacing="0.4">13</text>
<circle cx="821.2" cy="1075.1" r="11.4" fill="#fff" stroke="#484848" stroke-width="1.5"/>
<text transform="translate(821.4 1081.0) scale(0.9 1)" text-anchor="middle" font-size="16.4" fill="#363636" stroke="#363636" stroke-width="0.3" letter-spacing="0.4">14</text>
</g>
</g>
</g>
<g id="table">
<rect x="938.6" y="254.4" width="5.2" height="937.0" fill="#000"/>
<line x1="976.4" y1="254.4" x2="976.4" y2="1161.2" stroke="#222" stroke-width="1.85"/>
<line x1="1254.7" y1="254.4" x2="1254.7" y2="1161.2" stroke="#222" stroke-width="1.85"/>
<line x1="1272.0" y1="254.4" x2="1272.0" y2="1161.2" stroke="#222" stroke-width="1.85"/>
<line x1="1298.3" y1="254.4" x2="1298.3" y2="1161.2" stroke="#222" stroke-width="1.85"/>
<line x1="943" y1="278.5" x2="1445" y2="278.5" stroke="#2c2c2c" stroke-width="1.4"/>
<line x1="943" y1="316.9" x2="1445" y2="316.9" stroke="#2c2c2c" stroke-width="1.4"/>
<line x1="943" y1="355.3" x2="1445" y2="355.3" stroke="#2c2c2c" stroke-width="1.4"/>
<line x1="943" y1="393.6" x2="1445" y2="393.6" stroke="#2c2c2c" stroke-width="1.4"/>
<line x1="943" y1="432.0" x2="1445" y2="432.0" stroke="#2c2c2c" stroke-width="1.4"/>
<line x1="943" y1="470.4" x2="1445" y2="470.4" stroke="#2c2c2c" stroke-width="1.4"/>
<line x1="943" y1="508.8" x2="1445" y2="508.8" stroke="#2c2c2c" stroke-width="1.4"/>
<line x1="943" y1="547.2" x2="1445" y2="547.2" stroke="#2c2c2c" stroke-width="1.4"/>
<line x1="943" y1="585.5" x2="1445" y2="585.5" stroke="#2c2c2c" stroke-width="1.4"/>
<line x1="943" y1="623.9" x2="1445" y2="623.9" stroke="#2c2c2c" stroke-width="1.4"/>
<line x1="943" y1="662.3" x2="1445" y2="662.3" stroke="#2c2c2c" stroke-width="1.4"/>
<line x1="943" y1="700.7" x2="1445" y2="700.7" stroke="#2c2c2c" stroke-width="1.4"/>
<line x1="943" y1="739.1" x2="1445" y2="739.1" stroke="#2c2c2c" stroke-width="1.4"/>
<line x1="943" y1="777.4" x2="1445" y2="777.4" stroke="#2c2c2c" stroke-width="1.4"/>
<line x1="943" y1="815.8" x2="1445" y2="815.8" stroke="#2c2c2c" stroke-width="1.4"/>
<line x1="943" y1="854.2" x2="1445" y2="854.2" stroke="#2c2c2c" stroke-width="1.4"/>
<line x1="943" y1="892.6" x2="1445" y2="892.6" stroke="#2c2c2c" stroke-width="1.4"/>
<line x1="943" y1="931.0" x2="1445" y2="931.0" stroke="#2c2c2c" stroke-width="1.4"/>
<line x1="943" y1="969.3" x2="1445" y2="969.3" stroke="#2c2c2c" stroke-width="1.4"/>
<line x1="943" y1="1007.7" x2="1445" y2="1007.7" stroke="#2c2c2c" stroke-width="1.4"/>
<line x1="943" y1="1046.1" x2="1445" y2="1046.1" stroke="#2c2c2c" stroke-width="1.4"/>
<line x1="943" y1="1084.5" x2="1445" y2="1084.5" stroke="#2c2c2c" stroke-width="1.4"/>
<line x1="943" y1="1122.9" x2="1445" y2="1122.9" stroke="#2c2c2c" stroke-width="1.4"/>
<line x1="943" y1="1161.2" x2="1445" y2="1161.2" stroke="#2c2c2c" stroke-width="1.4"/>
<text transform="translate(944.6 271.2) scale(0.855 1)" font-size="16.6" text-anchor="start" fill="#111" font-weight="normal" stroke="#111" stroke-width="0.45">Pos.</text>
<text transform="translate(979.5 271.2) scale(0.855 1)" font-size="16.6" text-anchor="start" fill="#111" font-weight="normal" stroke="#111" stroke-width="0.45">Materialbezeichnung</text>
<text transform="translate(1256.6 271.2) scale(0.76 1)" font-size="16.6" text-anchor="start" fill="#111" font-weight="normal" stroke="#111" stroke-width="0.45">M</text>
<text transform="translate(1276.4 271.2) scale(0.82 1)" font-size="16.6" text-anchor="start" fill="#111" font-weight="normal" stroke="#111" stroke-width="0.45">St.</text>
<text transform="translate(1302.0 271.2) scale(0.855 1)" font-size="16.6" text-anchor="start" fill="#111" font-weight="normal" stroke="#111" stroke-width="0.45">Material</text>
<text transform="translate(958.5 303.7) scale(0.84 1)" font-size="15" text-anchor="middle" fill="#111" font-weight="normal" stroke="#111" stroke-width="0.45">1</text>
<text transform="translate(979.5 301.9) scale(0.853 1)" font-size="15" text-anchor="start" fill="#111" font-weight="normal" stroke="#111" stroke-width="0.45">Z ZYLINDERKOPF STUFE II</text>
<text transform="translate(1263.5 303.7) scale(0.82 1)" font-size="15" text-anchor="middle" fill="#111" font-weight="normal" stroke="#111" stroke-width="0.45">X</text>
<text transform="translate(1285.4 303.7) scale(0.84 1)" font-size="15" text-anchor="middle" fill="#111" font-weight="normal" stroke="#111" stroke-width="0.45">6</text>
<text transform="translate(1303.6 303.7) scale(0.852 1)" font-size="15" text-anchor="start" fill="#111" font-weight="normal" stroke="#111" stroke-width="0.45">93510401225</text>
<text transform="translate(958.5 342.1) scale(0.84 1)" font-size="15" text-anchor="middle" fill="#111" font-weight="normal" stroke="#111" stroke-width="0.45">2</text>
<text transform="translate(979.5 340.3) scale(0.853 1)" font-size="15" text-anchor="start" fill="#111" font-weight="normal" stroke="#111" stroke-width="0.45">EINSCHRAUBDECKEL</text>
<text transform="translate(1263.5 342.1) scale(0.82 1)" font-size="15" text-anchor="middle" fill="#111" font-weight="normal" stroke="#111" stroke-width="0.45">X</text>
<text transform="translate(1285.4 342.1) scale(0.84 1)" font-size="15" text-anchor="middle" fill="#111" font-weight="normal" stroke="#111" stroke-width="0.45">24</text>
<text transform="translate(1303.6 342.1) scale(0.852 1)" font-size="15" text-anchor="start" fill="#111" font-weight="normal" stroke="#111" stroke-width="0.45">93510434120</text>
<text transform="translate(958.5 380.5) scale(0.84 1)" font-size="15" text-anchor="middle" fill="#111" font-weight="normal" stroke="#111" stroke-width="0.45">3</text>
<text transform="translate(979.5 378.7) scale(0.853 1)" font-size="15" text-anchor="start" fill="#111" font-weight="normal" stroke="#111" stroke-width="0.45">*ZYL.STIFT</text>
<text transform="translate(1285.4 380.5) scale(0.84 1)" font-size="15" text-anchor="middle" fill="#111" font-weight="normal" stroke="#111" stroke-width="0.45">12</text>
<text transform="translate(1303.6 380.5) scale(0.852 1)" font-size="15" text-anchor="start" fill="#111" font-weight="normal" stroke="#111" stroke-width="0.45">99901200600</text>
<text transform="translate(958.5 418.8) scale(0.84 1)" font-size="15" text-anchor="middle" fill="#111" font-weight="normal" stroke="#111" stroke-width="0.45">4</text>
<text transform="translate(979.5 417.0) scale(0.853 1)" font-size="15" text-anchor="start" fill="#111" font-weight="normal" stroke="#111" stroke-width="0.45">STIFT-SHR B M8X40 TIAL6V4</text>
<text transform="translate(1263.5 418.8) scale(0.82 1)" font-size="15" text-anchor="middle" fill="#111" font-weight="normal" stroke="#111" stroke-width="0.45">X</text>
<text transform="translate(1285.4 418.8) scale(0.84 1)" font-size="15" text-anchor="middle" fill="#111" font-weight="normal" stroke="#111" stroke-width="0.45">36</text>
<text transform="translate(1303.6 418.8) scale(0.852 1)" font-size="15" text-anchor="start" fill="#111" font-weight="normal" stroke="#111" stroke-width="0.45">99906211980</text>
<text transform="translate(958.5 457.2) scale(0.84 1)" font-size="15" text-anchor="middle" fill="#111" font-weight="normal" stroke="#111" stroke-width="0.45">5</text>
<text transform="translate(979.5 455.4) scale(0.853 1)" font-size="15" text-anchor="start" fill="#111" font-weight="normal" stroke="#111" stroke-width="0.45">STIFT-SHR B M 8X18 PN1213 8.8 C350</text>
<text transform="translate(1285.4 457.2) scale(0.84 1)" font-size="15" text-anchor="middle" fill="#111" font-weight="normal" stroke="#111" stroke-width="0.45">18</text>
<text transform="translate(1303.6 457.2) scale(0.852 1)" font-size="15" text-anchor="start" fill="#111" font-weight="normal" stroke="#111" stroke-width="0.45">99906200502</text>
<text transform="translate(958.5 495.6) scale(0.84 1)" font-size="15" text-anchor="middle" fill="#111" font-weight="normal" stroke="#111" stroke-width="0.45">6</text>
<text transform="translate(979.5 493.8) scale(0.853 1)" font-size="15" text-anchor="start" fill="#111" font-weight="normal" stroke="#111" stroke-width="0.45">STIFT-SHR B M6X18 TIAL6V4</text>
<text transform="translate(1263.5 495.6) scale(0.82 1)" font-size="15" text-anchor="middle" fill="#111" font-weight="normal" stroke="#111" stroke-width="0.45">X</text>
<text transform="translate(1285.4 495.6) scale(0.84 1)" font-size="15" text-anchor="middle" fill="#111" font-weight="normal" stroke="#111" stroke-width="0.45">48</text>
<text transform="translate(1303.6 495.6) scale(0.852 1)" font-size="15" text-anchor="start" fill="#111" font-weight="normal" stroke="#111" stroke-width="0.45">99906200380</text>
<text transform="translate(958.5 534.0) scale(0.84 1)" font-size="15" text-anchor="middle" fill="#111" font-weight="normal" stroke="#111" stroke-width="0.45">7</text>
<text transform="translate(979.5 532.2) scale(0.853 1)" font-size="15" text-anchor="start" fill="#111" font-weight="normal" stroke="#111" stroke-width="0.45">EINLASSVENTIL D=35MM</text>
<text transform="translate(1263.5 534.0) scale(0.82 1)" font-size="15" text-anchor="middle" fill="#111" font-weight="normal" stroke="#111" stroke-width="0.45">X</text>
<text transform="translate(1285.4 534.0) scale(0.84 1)" font-size="15" text-anchor="middle" fill="#111" font-weight="normal" stroke="#111" stroke-width="0.45">12</text>
<text transform="translate(1303.6 534.0) scale(0.852 1)" font-size="15" text-anchor="start" fill="#111" font-weight="normal" stroke="#111" stroke-width="0.45">93510540120</text>
<text transform="translate(958.5 572.4) scale(0.84 1)" font-size="15" text-anchor="middle" fill="#111" font-weight="normal" stroke="#111" stroke-width="0.45">8</text>
<text transform="translate(979.5 570.6) scale(0.853 1)" font-size="15" text-anchor="start" fill="#111" font-weight="normal" stroke="#111" stroke-width="0.45">AUSLASSVENTIL D=30,5MM</text>
<text transform="translate(1263.5 572.4) scale(0.82 1)" font-size="15" text-anchor="middle" fill="#111" font-weight="normal" stroke="#111" stroke-width="0.45">X</text>
<text transform="translate(1285.4 572.4) scale(0.84 1)" font-size="15" text-anchor="middle" fill="#111" font-weight="normal" stroke="#111" stroke-width="0.45">12</text>
<text transform="translate(1303.6 572.4) scale(0.852 1)" font-size="15" text-anchor="start" fill="#111" font-weight="normal" stroke="#111" stroke-width="0.45">93510541120</text>
<text transform="translate(958.5 610.7) scale(0.84 1)" font-size="15" text-anchor="middle" fill="#111" font-weight="normal" stroke="#111" stroke-width="0.45">9</text>
<text transform="translate(979.5 608.9) scale(0.853 1)" font-size="15" text-anchor="start" fill="#111" font-weight="normal" stroke="#111" stroke-width="0.45">SCHEIBE</text>
<text transform="translate(1263.5 610.7) scale(0.82 1)" font-size="15" text-anchor="middle" fill="#111" font-weight="normal" stroke="#111" stroke-width="0.45">X</text>
<text transform="translate(1285.4 610.7) scale(0.84 1)" font-size="15" text-anchor="middle" fill="#111" font-weight="normal" stroke="#111" stroke-width="0.45">12</text>
<text transform="translate(1303.6 610.7) scale(0.852 1)" font-size="15" text-anchor="start" fill="#111" font-weight="normal" stroke="#111" stroke-width="0.45">93510546120</text>
<text transform="translate(958.5 649.1) scale(0.84 1)" font-size="15" text-anchor="middle" fill="#111" font-weight="normal" stroke="#111" stroke-width="0.45">10</text>
<text transform="translate(979.5 647.3) scale(0.853 1)" font-size="15" text-anchor="start" fill="#111" font-weight="normal" stroke="#111" stroke-width="0.45">VENTILFEDERTELLER UNTEN</text>
<text transform="translate(1263.5 649.1) scale(0.82 1)" font-size="15" text-anchor="middle" fill="#111" font-weight="normal" stroke="#111" stroke-width="0.45">X</text>
<text transform="translate(1285.4 649.1) scale(0.84 1)" font-size="15" text-anchor="middle" fill="#111" font-weight="normal" stroke="#111" stroke-width="0.45">12</text>
<text transform="translate(1303.6 649.1) scale(0.852 1)" font-size="15" text-anchor="start" fill="#111" font-weight="normal" stroke="#111" stroke-width="0.45">93510545120</text>
<text transform="translate(958.5 687.5) scale(0.84 1)" font-size="15" text-anchor="middle" fill="#111" font-weight="normal" stroke="#111" stroke-width="0.45">11</text>
<text transform="translate(979.5 685.7) scale(0.853 1)" font-size="15" text-anchor="start" fill="#111" font-weight="normal" stroke="#111" stroke-width="0.45">VENTILKEGELSTUECK EINLASS</text>
<text transform="translate(1263.5 687.5) scale(0.82 1)" font-size="15" text-anchor="middle" fill="#111" font-weight="normal" stroke="#111" stroke-width="0.45">X</text>
<text transform="translate(1285.4 687.5) scale(0.84 1)" font-size="15" text-anchor="middle" fill="#111" font-weight="normal" stroke="#111" stroke-width="0.45">24</text>
<text transform="translate(1303.6 687.5) scale(0.852 1)" font-size="15" text-anchor="start" fill="#111" font-weight="normal" stroke="#111" stroke-width="0.45">93510541720</text>
<text transform="translate(958.5 725.9) scale(0.84 1)" font-size="15" text-anchor="middle" fill="#111" font-weight="normal" stroke="#111" stroke-width="0.45">12</text>
<text transform="translate(979.5 724.1) scale(0.853 1)" font-size="15" text-anchor="start" fill="#111" font-weight="normal" stroke="#111" stroke-width="0.45">VENTILFEDERSATZ</text>
<text transform="translate(1263.5 725.9) scale(0.82 1)" font-size="15" text-anchor="middle" fill="#111" font-weight="normal" stroke="#111" stroke-width="0.45">X</text>
<text transform="translate(1285.4 725.9) scale(0.84 1)" font-size="15" text-anchor="middle" fill="#111" font-weight="normal" stroke="#111" stroke-width="0.45">24</text>
<text transform="translate(1303.6 725.9) scale(0.852 1)" font-size="15" text-anchor="start" fill="#111" font-weight="normal" stroke="#111" stroke-width="0.45">93510590120</text>
<text transform="translate(958.5 764.3) scale(0.84 1)" font-size="15" text-anchor="middle" fill="#111" font-weight="normal" stroke="#111" stroke-width="0.45">13</text>
<text transform="translate(979.5 762.5) scale(0.853 1)" font-size="15" text-anchor="start" fill="#111" font-weight="normal" stroke="#111" stroke-width="0.45">VENTILFEDERTELLER OBEN</text>
<text transform="translate(1263.5 764.3) scale(0.82 1)" font-size="15" text-anchor="middle" fill="#111" font-weight="normal" stroke="#111" stroke-width="0.45">X</text>
<text transform="translate(1285.4 764.3) scale(0.84 1)" font-size="15" text-anchor="middle" fill="#111" font-weight="normal" stroke="#111" stroke-width="0.45">24</text>
<text transform="translate(1303.6 764.3) scale(0.852 1)" font-size="15" text-anchor="start" fill="#111" font-weight="normal" stroke="#111" stroke-width="0.45">93510542120</text>
<text transform="translate(958.5 802.6) scale(0.84 1)" font-size="15" text-anchor="middle" fill="#111" font-weight="normal" stroke="#111" stroke-width="0.45">14</text>
<text transform="translate(979.5 800.8) scale(0.853 1)" font-size="15" text-anchor="start" fill="#111" font-weight="normal" stroke="#111" stroke-width="0.45">VENTILKAPPE 2,60MM</text>
<text transform="translate(1263.5 802.6) scale(0.82 1)" font-size="15" text-anchor="middle" fill="#111" font-weight="normal" stroke="#111" stroke-width="0.45">X</text>
<text transform="translate(1285.4 802.6) scale(0.84 1)" font-size="15" text-anchor="middle" fill="#111" font-weight="normal" stroke="#111" stroke-width="0.45">24</text>
<text transform="translate(1303.6 802.6) scale(0.852 1)" font-size="15" text-anchor="start" fill="#111" font-weight="normal" stroke="#111" stroke-width="0.45">93510533522</text>
<text transform="translate(958.5 841.0) scale(0.84 1)" font-size="15" text-anchor="middle" fill="#111" font-weight="normal" stroke="#111" stroke-width="0.45">14</text>
<text transform="translate(979.5 839.2) scale(0.853 1)" font-size="15" text-anchor="start" fill="#111" font-weight="normal" stroke="#111" stroke-width="0.45">VENTILKAPPE 2,55MM</text>
<text transform="translate(1263.5 841.0) scale(0.82 1)" font-size="15" text-anchor="middle" fill="#111" font-weight="normal" stroke="#111" stroke-width="0.45">X</text>
<text transform="translate(1285.4 841.0) scale(0.84 1)" font-size="15" text-anchor="middle" fill="#111" font-weight="normal" stroke="#111" stroke-width="0.45">24</text>
<text transform="translate(1303.6 841.0) scale(0.852 1)" font-size="15" text-anchor="start" fill="#111" font-weight="normal" stroke="#111" stroke-width="0.45">93510533521</text>
<text transform="translate(958.5 879.4) scale(0.84 1)" font-size="15" text-anchor="middle" fill="#111" font-weight="normal" stroke="#111" stroke-width="0.45">14</text>
<text transform="translate(979.5 877.6) scale(0.853 1)" font-size="15" text-anchor="start" fill="#111" font-weight="normal" stroke="#111" stroke-width="0.45">VENTILKAPPE 2,50MM</text>
<text transform="translate(1263.5 879.4) scale(0.82 1)" font-size="15" text-anchor="middle" fill="#111" font-weight="normal" stroke="#111" stroke-width="0.45">X</text>
<text transform="translate(1285.4 879.4) scale(0.84 1)" font-size="15" text-anchor="middle" fill="#111" font-weight="normal" stroke="#111" stroke-width="0.45">24</text>
<text transform="translate(1303.6 879.4) scale(0.852 1)" font-size="15" text-anchor="start" fill="#111" font-weight="normal" stroke="#111" stroke-width="0.45">93510533520</text>
<text transform="translate(958.5 917.8) scale(0.84 1)" font-size="15" text-anchor="middle" fill="#111" font-weight="normal" stroke="#111" stroke-width="0.45">14</text>
<text transform="translate(979.5 916.0) scale(0.853 1)" font-size="15" text-anchor="start" fill="#111" font-weight="normal" stroke="#111" stroke-width="0.45">VENTILKAPPE 2,45MM</text>
<text transform="translate(1263.5 917.8) scale(0.82 1)" font-size="15" text-anchor="middle" fill="#111" font-weight="normal" stroke="#111" stroke-width="0.45">X</text>
<text transform="translate(1285.4 917.8) scale(0.84 1)" font-size="15" text-anchor="middle" fill="#111" font-weight="normal" stroke="#111" stroke-width="0.45">24</text>
<text transform="translate(1303.6 917.8) scale(0.852 1)" font-size="15" text-anchor="start" fill="#111" font-weight="normal" stroke="#111" stroke-width="0.45">93510533519</text>
<text transform="translate(958.5 956.2) scale(0.84 1)" font-size="15" text-anchor="middle" fill="#111" font-weight="normal" stroke="#111" stroke-width="0.45">14</text>
<text transform="translate(979.5 954.4) scale(0.853 1)" font-size="15" text-anchor="start" fill="#111" font-weight="normal" stroke="#111" stroke-width="0.45">VENTILKAPPE 2,40MM</text>
<text transform="translate(1263.5 956.2) scale(0.82 1)" font-size="15" text-anchor="middle" fill="#111" font-weight="normal" stroke="#111" stroke-width="0.45">X</text>
<text transform="translate(1285.4 956.2) scale(0.84 1)" font-size="15" text-anchor="middle" fill="#111" font-weight="normal" stroke="#111" stroke-width="0.45">24</text>
<text transform="translate(1303.6 956.2) scale(0.852 1)" font-size="15" text-anchor="start" fill="#111" font-weight="normal" stroke="#111" stroke-width="0.45">93510533518</text>
<text transform="translate(958.5 994.5) scale(0.84 1)" font-size="15" text-anchor="middle" fill="#111" font-weight="normal" stroke="#111" stroke-width="0.45">14</text>
<text transform="translate(979.5 992.7) scale(0.853 1)" font-size="15" text-anchor="start" fill="#111" font-weight="normal" stroke="#111" stroke-width="0.45">VENTILKAPPE 2,35MM</text>
<text transform="translate(1263.5 994.5) scale(0.82 1)" font-size="15" text-anchor="middle" fill="#111" font-weight="normal" stroke="#111" stroke-width="0.45">X</text>
<text transform="translate(1285.4 994.5) scale(0.84 1)" font-size="15" text-anchor="middle" fill="#111" font-weight="normal" stroke="#111" stroke-width="0.45">24</text>
<text transform="translate(1303.6 994.5) scale(0.852 1)" font-size="15" text-anchor="start" fill="#111" font-weight="normal" stroke="#111" stroke-width="0.45">93510533517</text>
<text transform="translate(958.5 1032.9) scale(0.84 1)" font-size="15" text-anchor="middle" fill="#111" font-weight="normal" stroke="#111" stroke-width="0.45">14</text>
<text transform="translate(979.5 1031.1) scale(0.853 1)" font-size="15" text-anchor="start" fill="#111" font-weight="normal" stroke="#111" stroke-width="0.45">VENTILKAPPE 2,30MM</text>
<text transform="translate(1263.5 1032.9) scale(0.82 1)" font-size="15" text-anchor="middle" fill="#111" font-weight="normal" stroke="#111" stroke-width="0.45">X</text>
<text transform="translate(1285.4 1032.9) scale(0.84 1)" font-size="15" text-anchor="middle" fill="#111" font-weight="normal" stroke="#111" stroke-width="0.45">24</text>
<text transform="translate(1303.6 1032.9) scale(0.852 1)" font-size="15" text-anchor="start" fill="#111" font-weight="normal" stroke="#111" stroke-width="0.45">93510533516</text>
<text transform="translate(958.5 1071.3) scale(0.84 1)" font-size="15" text-anchor="middle" fill="#111" font-weight="normal" stroke="#111" stroke-width="0.45">14</text>
<text transform="translate(979.5 1069.5) scale(0.853 1)" font-size="15" text-anchor="start" fill="#111" font-weight="normal" stroke="#111" stroke-width="0.45">VENTILKAPPE 2,25MM</text>
<text transform="translate(1263.5 1071.3) scale(0.82 1)" font-size="15" text-anchor="middle" fill="#111" font-weight="normal" stroke="#111" stroke-width="0.45">X</text>
<text transform="translate(1285.4 1071.3) scale(0.84 1)" font-size="15" text-anchor="middle" fill="#111" font-weight="normal" stroke="#111" stroke-width="0.45">24</text>
<text transform="translate(1303.6 1071.3) scale(0.852 1)" font-size="15" text-anchor="start" fill="#111" font-weight="normal" stroke="#111" stroke-width="0.45">93510533515</text>
<text transform="translate(958.5 1109.7) scale(0.84 1)" font-size="15" text-anchor="middle" fill="#111" font-weight="normal" stroke="#111" stroke-width="0.45">14</text>
<text transform="translate(979.5 1107.9) scale(0.853 1)" font-size="15" text-anchor="start" fill="#111" font-weight="normal" stroke="#111" stroke-width="0.45">VENTILKAPPE 2,20MM</text>
<text transform="translate(1263.5 1109.7) scale(0.82 1)" font-size="15" text-anchor="middle" fill="#111" font-weight="normal" stroke="#111" stroke-width="0.45">X</text>
<text transform="translate(1285.4 1109.7) scale(0.84 1)" font-size="15" text-anchor="middle" fill="#111" font-weight="normal" stroke="#111" stroke-width="0.45">24</text>
<text transform="translate(1303.6 1109.7) scale(0.852 1)" font-size="15" text-anchor="start" fill="#111" font-weight="normal" stroke="#111" stroke-width="0.45">93510533514</text>
<text transform="translate(958.5 1148.1) scale(0.84 1)" font-size="15" text-anchor="middle" fill="#111" font-weight="normal" stroke="#111" stroke-width="0.45">14</text>
<text transform="translate(979.5 1146.3) scale(0.853 1)" font-size="15" text-anchor="start" fill="#111" font-weight="normal" stroke="#111" stroke-width="0.45">VENTILKAPPE 2,15MM</text>
<text transform="translate(1263.5 1148.1) scale(0.82 1)" font-size="15" text-anchor="middle" fill="#111" font-weight="normal" stroke="#111" stroke-width="0.45">X</text>
<text transform="translate(1285.4 1148.1) scale(0.84 1)" font-size="15" text-anchor="middle" fill="#111" font-weight="normal" stroke="#111" stroke-width="0.45">24</text>
<text transform="translate(1303.6 1148.1) scale(0.852 1)" font-size="15" text-anchor="start" fill="#111" font-weight="normal" stroke="#111" stroke-width="0.45">93510533513</text>
</g>
<g id="highlight">
<g fill="none" stroke="#e8171f">
<rect x="944.4" y="625.5" width="496.1" height="36" stroke-width="4.6"/>
<rect x="696.1" y="677.4" width="29.8" height="30.4" stroke-width="4.5"/>
<rect x="662.2" y="929.1" width="28.2" height="27.9" stroke-width="4.5"/>
<line x1="727" y1="677" x2="943.5" y2="625.6" stroke-width="4.4"/>
<line x1="686.7" y1="927.5" x2="943.5" y2="661.5" stroke-width="4.5"/>
</g>
</g>
</svg>
</body>
</html>
